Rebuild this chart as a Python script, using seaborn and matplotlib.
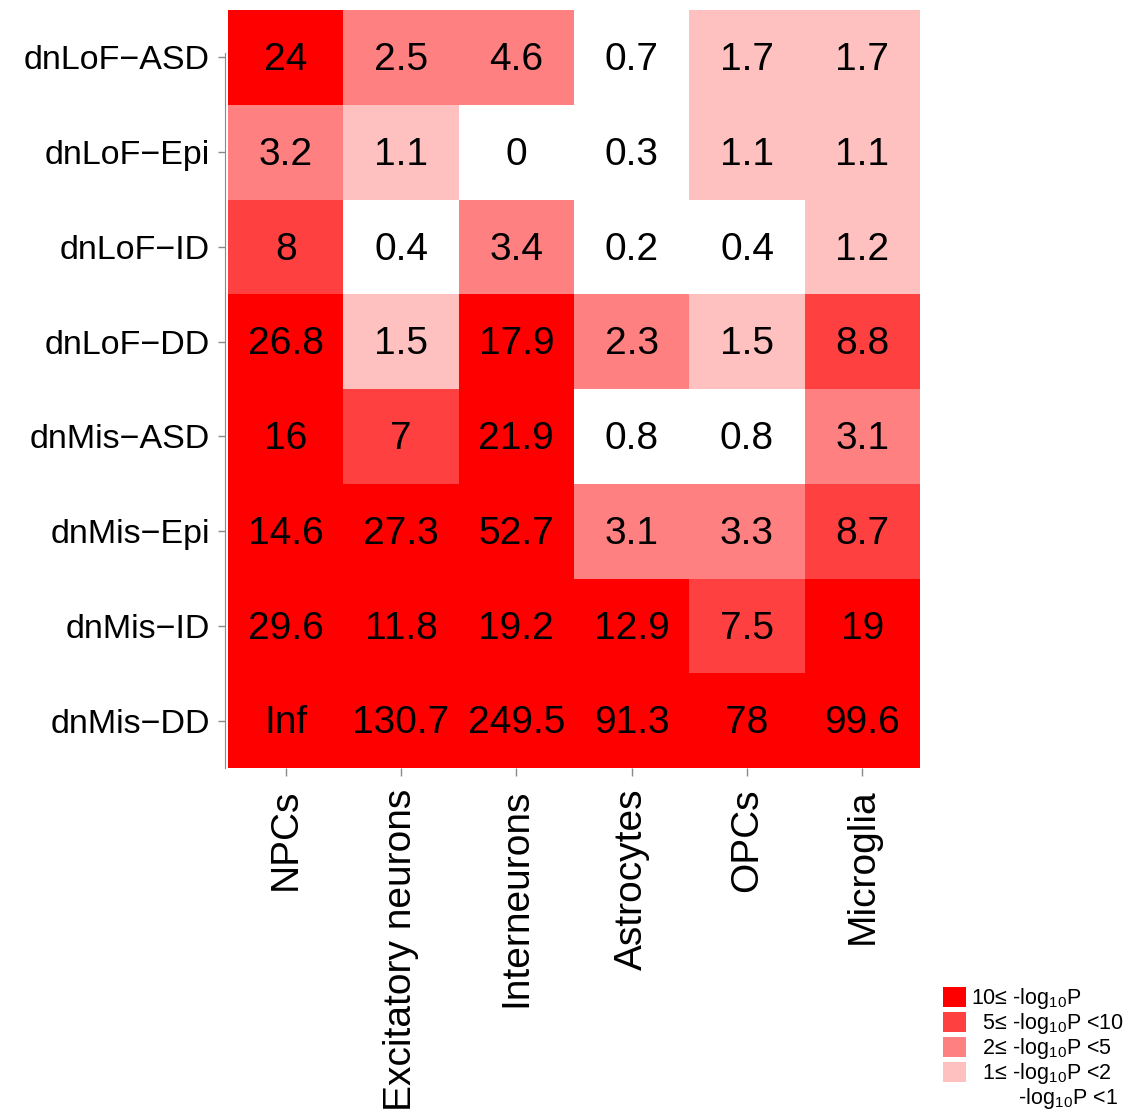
import numpy as np
import pandas as pd
import matplotlib
matplotlib.use("Agg")
import matplotlib.pyplot as plt
from matplotlib.colors import ListedColormap, BoundaryNorm
from matplotlib.patches import Patch
import seaborn as sns

rows = ["dnLoF\u2212ASD", "dnLoF\u2212Epi", "dnLoF\u2212ID", "dnLoF\u2212DD",
        "dnMis\u2212ASD", "dnMis\u2212Epi", "dnMis\u2212ID", "dnMis\u2212DD"]
cols = ["NPCs", "Excitatory neurons", "Interneurons", "Astrocytes", "OPCs", "Microglia"]

dnLoF_ASD = [24, 2.5, 4.6, 0.7, 1.7, 1.7]
dnLoF_Epi = [3.2, 1.1, 0, 0.3, 1.1, 1.1]
dnLoF_ID = [8, 0.4, 3.4, 0.2, 0.4, 1.2]
dnLoF_DD = [26.8, 1.5, 17.9, 2.3, 1.5, 8.8]
dnMis_ASD = [16, 7, 21.9, 0.8, 0.8, 3.1]
dnMis_Epi = [14.6, 27.3, 52.7, 3.1, 3.3, 8.7]
dnMis_ID = [29.6, 11.8, 19.2, 12.9, 7.5, 19]
dnMis_DD = [np.inf, 130.7, 249.5, 91.3, 78, 99.6]

breaks = [1, 2, 5, 10]
level_colors = ["#FFFFFF", "#FFC0C0", "#FF8080", "#FF4040", "#FF0000"]
legend_labels = ["10\u2264 -log$_{10}$P", "  5\u2264 -log$_{10}$P <10",
                 "  2\u2264 -log$_{10}$P <5", "  1\u2264 -log$_{10}$P <2",
                 "        -log$_{10}$P <1"]

values = np.array([dnLoF_ASD, dnLoF_Epi, dnLoF_ID, dnLoF_DD,
                   dnMis_ASD, dnMis_Epi, dnMis_ID, dnMis_DD], dtype=float)
levels = np.digitize(values, breaks)
df = pd.DataFrame(levels, index=rows, columns=cols)
annot = np.array([["Inf" if np.isinf(v) else f"{v:g}" for v in r] for r in values])

plt.rcParams["font.family"] = ["Liberation Sans", "DejaVu Sans"]
plt.rcParams["mathtext.default"] = "regular"

fig = plt.figure(figsize=(11.31, 11.13), dpi=100)
ax = fig.add_axes([228 / 1131, 1 - 768 / 1113, (920 - 228) / 1131, (768 - 10) / 1113])

cmap = ListedColormap(level_colors)
norm = BoundaryNorm(np.arange(-0.5, 5.5, 1), cmap.N)
sns.heatmap(df, ax=ax, cmap=cmap, norm=norm, cbar=False, annot=annot, fmt="",
            annot_kws={"fontsize": 28, "color": "black"}, linewidths=0)
for t in ax.texts:
    x, y = t.get_position()
    t.set_position((x, y + 0.03))

ax.tick_params(axis="y", labelsize=24.5, length=5, width=1, color="#888888", pad=6,
               labelrotation=0)
ax.tick_params(axis="x", labelsize=28, length=6, width=1, color="#888888", pad=9,
               labelrotation=90)
for s in ["top", "right", "bottom"]:
    ax.spines[s].set_visible(False)
ax.spines["left"].set_visible(True)
ax.spines["left"].set_color("#888888")
ax.spines["left"].set_bounds(0.45, 8)
ax.spines["left"].set_position(("outward", 2))
ax.set_xlabel("")
ax.set_ylabel("")

handles = [Patch(facecolor=c, edgecolor="none") for c in level_colors[::-1]]
fig.legend(handles, legend_labels, loc="lower left", bbox_to_anchor=(930 / 1131, -0.01),
           frameon=False, fontsize=15.5, handlelength=1.05, handleheight=1.05,
           handletextpad=0.25, labelspacing=0.0, borderaxespad=0.2)

fig.savefig("out.png", dpi=100)
